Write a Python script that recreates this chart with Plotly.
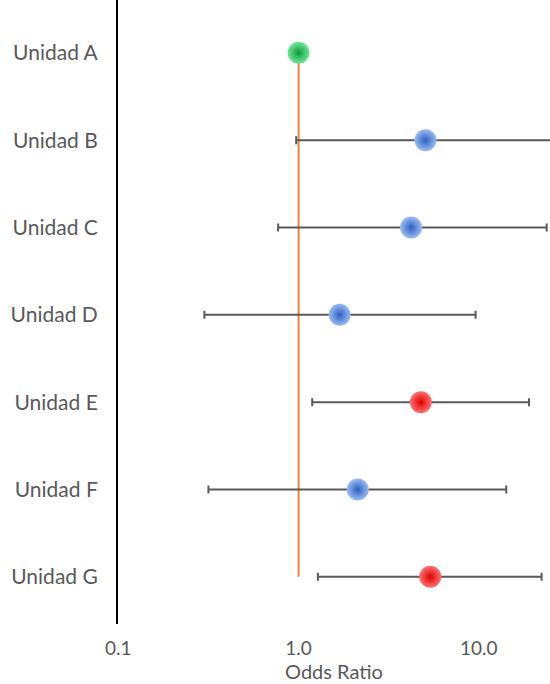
import plotly.graph_objects as go

units = ["Unidad A", "Unidad B", "Unidad C", "Unidad D", "Unidad E", "Unidad F", "Unidad G"]
odds_ratio = [1.0, 5.06, 4.21, 1.69, 4.77, 2.13, 5.38]
ci_low = [1.0, 0.97, 0.77, 0.30, 1.19, 0.316, 1.28]
ci_high = [1.0, 30.0, 23.8, 9.6, 19.0, 14.2, 22.3]
groups = ["ref", "ns", "ns", "ns", "sig", "ns", "sig"]
tick_vals = [0.1, 1.0, 10.0]
tick_text = ["0.1", "1.0", "10.0"]
ref_value = 1.0

colors = {"ref": ("#6ee898", "#0f9a3e"), "ns": ("#9abcf5", "#2f5fc0"), "sig": ("#ff7070", "#e00000")}

ypos = list(range(len(units)))
fig = go.Figure()

# reference line at OR = 1
fig.add_trace(go.Scatter(x=[ref_value, ref_value], y=[ypos[0], ypos[-1]], mode="lines",
                         line=dict(color="#e8853a", width=2), hoverinfo="skip", showlegend=False))

# error bars
for g in ["ns", "sig"]:
    idx = [i for i in ypos if groups[i] == g]
    fig.add_trace(go.Scatter(
        x=[odds_ratio[i] for i in idx], y=[ypos[i] for i in idx], mode="markers",
        marker=dict(size=1, color="rgba(0,0,0,0)"),
        error_x=dict(type="data", symmetric=False,
                     array=[ci_high[i] - odds_ratio[i] for i in idx],
                     arrayminus=[odds_ratio[i] - ci_low[i] for i in idx],
                     color="#5a5a5a", thickness=2, width=4),
        showlegend=False, hoverinfo="skip"))

for g in ["ref", "ns", "sig"]:
    idx = [i for i in ypos if groups[i] == g]
    c, edge = colors[g]
    fig.add_trace(go.Scatter(
        x=[odds_ratio[i] for i in idx], y=[ypos[i] for i in idx], mode="markers",
        marker=dict(size=22, color=c, gradient=dict(type="radial", color=edge),
                    line=dict(width=0)),
        showlegend=False))

fig.update_layout(
    width=550, height=684,
    margin=dict(l=118, r=0, t=0, b=60, autoexpand=False),
    paper_bgcolor="white", plot_bgcolor="white",
    font=dict(family="Lato, 'Open Sans', sans-serif", size=20, color="#595959"),
    xaxis=dict(type="log", range=[-1.002, 1.395], tickvals=tick_vals, ticktext=tick_text,
               showgrid=False, zeroline=False, showline=False, ticks="", automargin=False,
               ticklabelstandoff=11,
               title=dict(text="Odds Ratio", standoff=1, font=dict(size=20, color="#595959")),
               tickfont=dict(size=19, color="#595959")),
    yaxis=dict(range=[6.54, -0.605], tickvals=ypos, ticktext=units, showgrid=False,
               zeroline=False, showline=True, linecolor="black", linewidth=2, ticks="",
               automargin=False, ticklabelstandoff=14, tickfont=dict(size=21, color="#595959")),
)

fig.write_html("out.html", config={"displayModeBar": False},
               post_script="document.body.style.margin='0';document.body.style.overflow='hidden';")
